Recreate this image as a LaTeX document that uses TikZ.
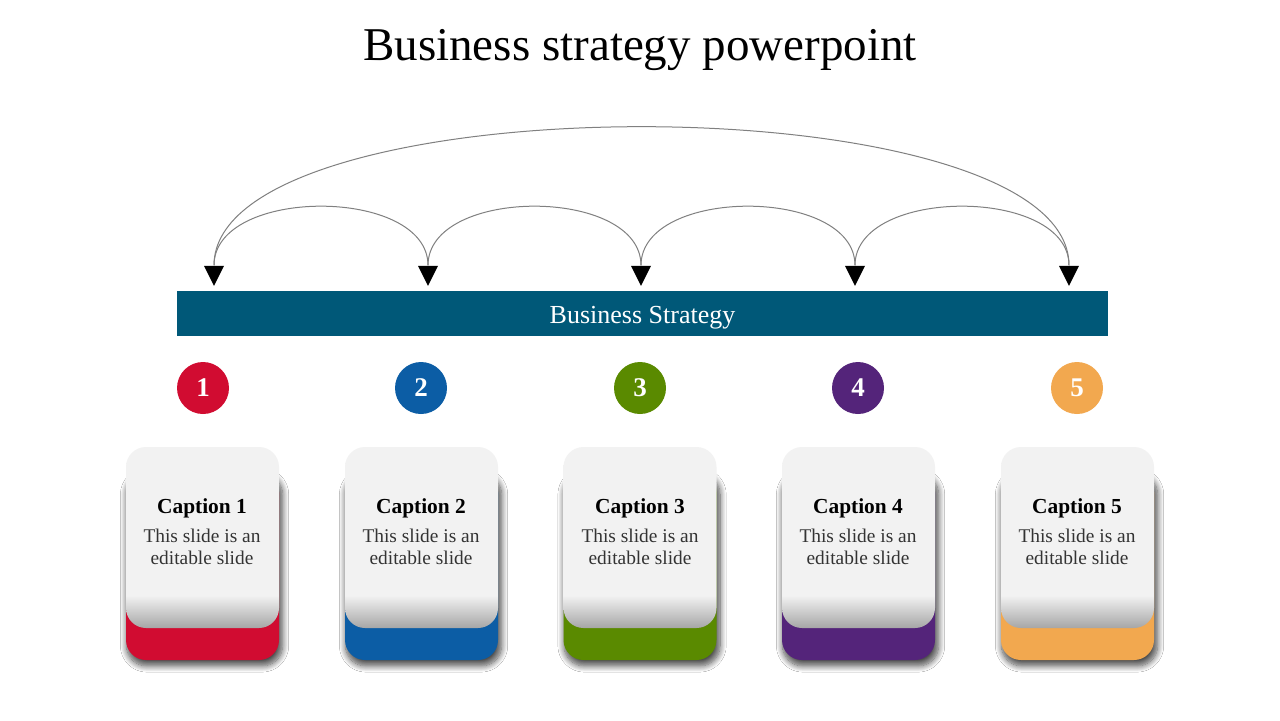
\documentclass[tikz,border=0pt]{standalone}
\usepackage{fontspec}
\setmainfont{Liberation Serif}
\usetikzlibrary{shapes.geometric,shadows.blur}

\definecolor{barblue}{HTML}{005878}
\definecolor{capred}{HTML}{D10C31}
\definecolor{capblue}{HTML}{0C5DA5}
\definecolor{capgreen}{HTML}{5A8A00}
\definecolor{cappurple}{HTML}{54247A}
\definecolor{caporange}{HTML}{F2A84F}
\definecolor{cardgray}{HTML}{F2F2F2}
\definecolor{cardedge}{HTML}{A6A6A6}
\definecolor{bodygray}{HTML}{333333}
\pgfdeclareverticalshading{cardshade}{100bp}{color(0bp)=(cardedge); color(25bp)=(cardedge); color(34bp)=(cardgray); color(100bp)=(cardgray)}

\tikzset{
    titletext/.style={font=\fontsize{23.5}{28}\selectfont},
    barbox/.style={fill=barblue, text=white, minimum width=465.5pt, minimum height=22.5pt, inner sep=0pt,
        text height=11pt, text depth=0.5pt, font=\fontsize{13}{15}\selectfont},
    tipmark/.style={isosceles triangle, shape border rotate=-90, isosceles triangle stretches, fill=black, minimum width=10pt, minimum height=10pt, inner sep=0pt},
    arc/.style={draw=gray, line width=0.5pt},
    numdot/.style={circle, minimum size=26pt, inner sep=0pt, text=white, font=\bfseries\fontsize{13.5}{16}\selectfont},
    cardbase/.style={rounded corners=10pt, minimum width=76.5pt, minimum height=94pt, inner sep=0pt,
        blur shadow={shadow xshift=1pt, shadow yshift=-2pt, shadow scale=1.02, shadow blur steps=10, shadow blur radius=3pt, shadow opacity=70}},
    cardtop/.style={rounded corners=10pt, minimum width=76.5pt, minimum height=90.5pt, inner sep=0pt, shading=cardshade},
    captext/.style={font=\bfseries\fontsize{10.7}{12}\selectfont},
    bodytext/.style={align=center, text=bodygray, font=\fontsize{9.7}{11}\selectfont}
}

\begin{document}
\begin{tikzpicture}[x=0.5pt, y=-0.5pt]
    \useasboundingbox [fill=white] (0,0) rectangle (1280,720);

    \node [titletext] (title) at (640,50) {Business strategy powerpoint};

    % arrow heads and arcs
    \node [tipmark] (tip1) at (214,272) {};
    \node [tipmark] (tip2) at (428,272) {};
    \node [tipmark] (tip3) at (641,272) {};
    \node [tipmark] (tip4) at (855,272) {};
    \node [tipmark] (tip5) at (1069,272) {};
    \draw [arc] (tip1.north) .. controls +(0,-79) and +(0,-79) .. (tip2.north);
    \draw [arc] (tip2.north) .. controls +(0,-79) and +(0,-79) .. (tip3.north);
    \draw [arc] (tip3.north) .. controls +(0,-79) and +(0,-79) .. (tip4.north);
    \draw [arc] (tip4.north) .. controls +(0,-79) and +(0,-79) .. (tip5.north);
    \draw [arc] (tip1.north) .. controls +(0,-185) and +(0,-185) .. (tip5.north);

    \node [barbox] (bar) at (642.5,313) {Business Strategy};

    % numbered dots
    \node [numdot, fill=capred] (num1) at (203,388) {1};
    \node [numdot, fill=capblue] (num2) at (421,388) {2};
    \node [numdot, fill=capgreen] (num3) at (640,388) {3};
    \node [numdot, fill=cappurple] (num4) at (858,388) {4};
    \node [numdot, fill=caporange] (num5) at (1077,388) {5};

    % cards
    \node [cardbase, fill=capred] (base1) at (202.5,566) {};
    \node [cardtop] (card1) at (202.5,537.5) {};
    \node [captext] (cap1) at (202,508) {Caption 1};
    \node [bodytext] (body1) at (202,547) {This slide is an\\editable slide};

    \node [cardbase, fill=capblue] (base2) at (421.5,566) {};
    \node [cardtop] (card2) at (421.5,537.5) {};
    \node [captext] (cap2) at (421,508) {Caption 2};
    \node [bodytext] (body2) at (421,547) {This slide is an\\editable slide};

    \node [cardbase, fill=capgreen] (base3) at (640,566) {};
    \node [cardtop] (card3) at (640,537.5) {};
    \node [captext] (cap3) at (640,508) {Caption 3};
    \node [bodytext] (body3) at (640,547) {This slide is an\\editable slide};

    \node [cardbase, fill=cappurple] (base4) at (858.5,566) {};
    \node [cardtop] (card4) at (858.5,537.5) {};
    \node [captext] (cap4) at (858,508) {Caption 4};
    \node [bodytext] (body4) at (858,547) {This slide is an\\editable slide};

    \node [cardbase, fill=caporange] (base5) at (1077.5,566) {};
    \node [cardtop] (card5) at (1077.5,537.5) {};
    \node [captext] (cap5) at (1077,508) {Caption 5};
    \node [bodytext] (body5) at (1077,547) {This slide is an\\editable slide};
\end{tikzpicture}
\end{document}
